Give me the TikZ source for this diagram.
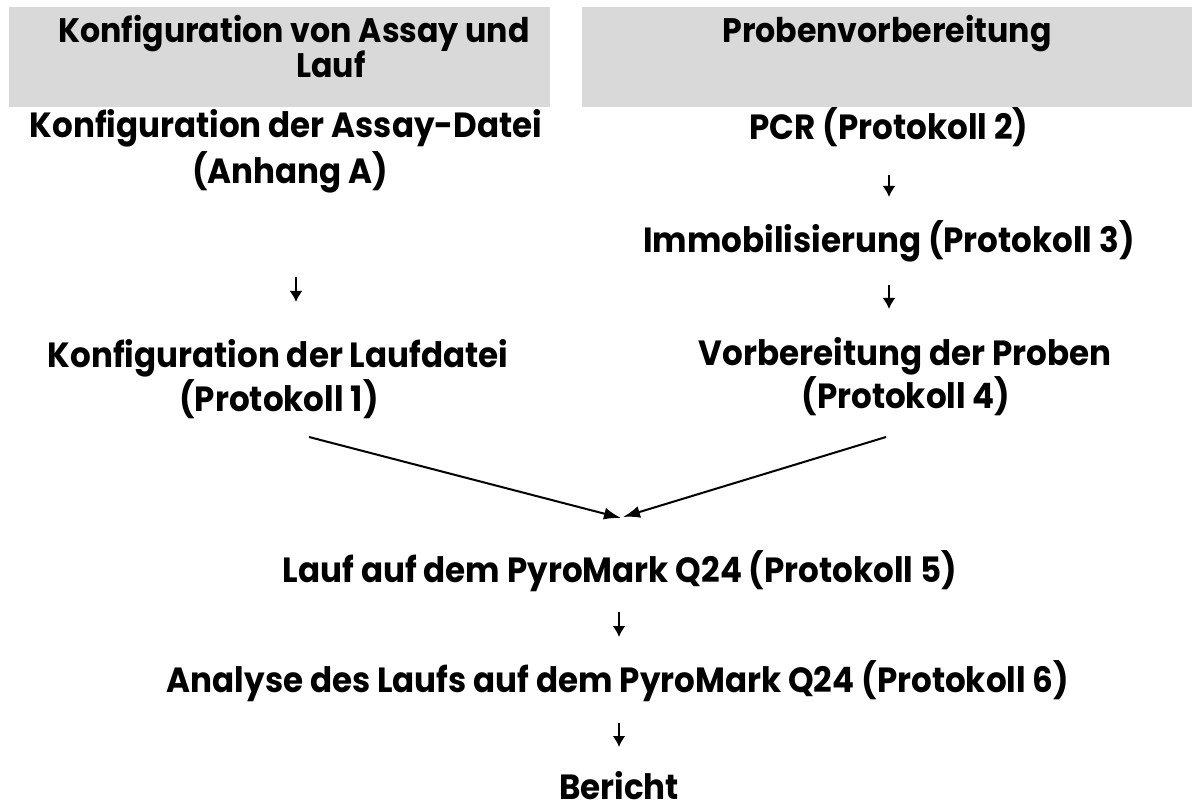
\documentclass[tikz,border=0pt]{standalone}
\usepackage{fontspec}
\setmainfont{Poppins}[FakeStretch=0.93]
\usetikzlibrary{arrows.meta}
\definecolor{headgray}{HTML}{D9D9D9}
\tikzset{
  txt/.style={anchor=base, inner sep=0pt, font=\fontsize{35}{40}\selectfont\bfseries},
  htxt/.style={anchor=base, inner sep=0pt, font=\fontsize{34}{38}\selectfont\bfseries},
  hdr/.style={fill=headgray, draw=none, inner sep=0pt, anchor=north west},
  arr/.style={-{Latex[length=11pt,width=13pt]}, line width=2.5pt},
  diag/.style={-{Latex[length=17pt,width=12pt]}, line width=2pt}
}
\begin{document}
\begin{tikzpicture}[x=1pt,y=-1pt]
\useasboundingbox (0,0) rectangle (1192,810);
% header boxes
\node[hdr, minimum width=541pt, minimum height=100pt] (boxL) at (9,7) {};
\node[hdr, minimum width=610pt, minimum height=100pt] (boxR) at (582,7) {};
\node[htxt] (hL1) at (294,43) {Konfiguration von Assay und};
\node[htxt] (hL2) at (331,78) {Lauf};
\node[htxt] (hR1) at (887,43) {Probenvorbereitung};
% left column
\node[txt] (a1) at (286,138) {Konfiguration der Assay-Datei};
\node[txt] (a2) at (290,184) {(Anhang A)};
\node[txt] (l1) at (278,367) {Konfiguration der Laufdatei};
\node[txt] (l2) at (279,411) {(Protokoll 1)};
% right column
\node[txt] (p1) at (889,140) {PCR (Protokoll 2)};
\node[txt] (i1) at (889,253) {Immobilisierung (Protokoll 3)};
\node[txt] (v1) at (905,366) {Vorbereitung der Proben};
\node[txt] (v2) at (906,409) {(Protokoll 4)};
% bottom
\node[txt] (r1) at (620,582) {Lauf auf dem PyroMark Q24 (Protokoll 5)};
\node[txt] (an) at (618,692) {Analyse des Laufs auf dem PyroMark Q24 (Protokoll 6)};
\node[txt] (be) at (619,799) {Bericht};
% arrow coordinates
\coordinate (la1) at (296,277); \coordinate (la2) at (296,302);
\coordinate (ra1) at (889,175); \coordinate (ra2) at (889,197);
\coordinate (rb1) at (889,285); \coordinate (rb2) at (889,309);
\coordinate (ba1) at (619,612); \coordinate (ba2) at (619,637);
\coordinate (bb1) at (619,723); \coordinate (bb2) at (619,747);
\coordinate (dl1) at (309,437); \coordinate (dl2) at (621,518);
\coordinate (dr1) at (886,437); \coordinate (dr2) at (623,517);
\draw[arr] (la1) -- (la2);
\draw[arr] (ra1) -- (ra2);
\draw[arr] (rb1) -- (rb2);
\draw[arr] (ba1) -- (ba2);
\draw[arr] (bb1) -- (bb2);
\draw[diag] (dl1) -- (dl2);
\draw[diag] (dr1) -- (dr2);
\end{tikzpicture}
\end{document}
